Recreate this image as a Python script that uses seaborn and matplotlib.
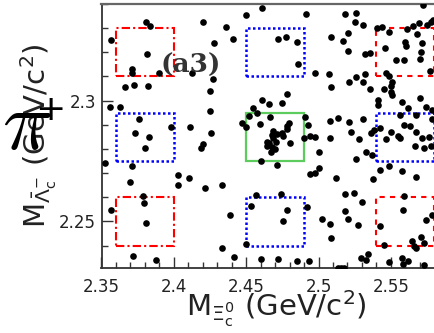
import matplotlib
matplotlib.use("Agg")
import matplotlib.pyplot as plt
import seaborn as sns
import pandas as pd
from matplotlib.patches import Rectangle
from matplotlib.ticker import MultipleLocator, FormatStrFormatter

# ---------------- data ----------------
m_xic0 = [
    2.3808, 2.3835, 2.3566, 2.3812, 2.3709, 2.3709, 2.3899, 2.3664, 2.3725, 2.3823,
    2.3559, 2.3628, 2.3759, 2.3732, 2.3980, 2.3828, 2.3801, 2.3522, 2.3709, 2.3697,
    2.4027, 2.4027, 2.3785, 2.3794, 2.3566, 2.3808, 2.3720, 2.3875,
    2.4201, 2.4357, 2.4497, 2.4606, 2.4412, 2.4278, 2.4128, 2.4271, 2.4252, 2.4252,
    2.4112, 2.4259, 2.4201, 2.4190, 2.4105, 2.4213, 2.4333, 2.4566, 2.4535, 2.4386,
    2.4497, 2.4331, 2.4416, 2.4604, 2.4611, 2.4547, 2.4468, 2.4497, 2.4577, 2.4522,
    2.4595, 2.4600,
    2.4658, 2.4745, 2.4664, 2.4794, 2.4784, 2.4780, 2.4687, 2.4715, 2.4745, 2.4756,
    2.4676, 2.4687, 2.4642, 2.4660, 2.4706, 2.4642, 2.4676, 2.4699, 2.4670, 2.4803,
    2.4711, 2.4741, 2.4918, 2.4782, 2.4752, 2.4718, 2.4849, 2.4936, 2.4913, 2.5185,
    2.4718, 2.4772, 2.4849, 2.5086, 2.5204, 2.5167, 2.5204, 2.4856, 2.4978, 2.5074,
    2.5088, 2.5210, 2.4782, 2.4906, 2.5079, 2.5137, 2.5210, 2.4929, 2.4899, 2.4941,
    2.4978, 2.5079, 2.5005, 2.5005, 2.4944, 2.4978, 2.5120, 2.5183, 2.5186, 2.5204,
    2.5024, 2.5076, 2.5083, 2.5132, 2.5155, 2.5178,
    2.5724, 2.5261, 2.5252, 2.5307, 2.5406, 2.5436, 2.5487, 2.5613, 2.5655, 2.5694,
    2.5747, 2.5775, 2.5791, 2.5682, 2.5597, 2.5602, 2.5713, 2.5459, 2.5321, 2.5356,
    2.5706, 2.5533, 2.5591, 2.5701, 2.5770, 2.5468, 2.5487, 2.5321, 2.5261, 2.5307,
    2.5506, 2.5503, 2.5353, 2.5452, 2.5499, 2.5510, 2.5701, 2.5413, 2.5413, 2.5579,
    2.5620, 2.5745, 2.5784, 2.5563, 2.5671, 2.5307, 2.5786, 2.5591, 2.5632,
    2.5225, 2.5281, 2.5362, 2.5383, 2.5425, 2.5466, 2.5500, 2.5546, 2.5563, 2.5673,
    2.5713, 2.5763, 2.5775, 2.5667, 2.5729,
    2.5331, 2.5367, 2.5261, 2.5423, 2.5487, 2.5575, 2.5376, 2.5671, 2.5243, 2.5302,
    2.5591, 2.5584, 2.5275, 2.5425, 2.5745, 2.5786, 2.5452, 2.5644, 2.5660, 2.5671,
    2.5706, 2.5729, 2.5295, 2.5331, 2.5344, 2.5487, 2.5579, 2.5584, 2.5620, 2.5729,
]
m_lambdac = [
    2.3325, 2.3308, 2.3250, 2.3195, 2.3130, 2.3115, 2.3113, 2.3055, 2.3064, 2.3060,
    2.2974, 2.2974, 2.2922, 2.2864, 2.2890, 2.2851, 2.2802, 2.2741, 2.2728, 2.2663,
    2.2693, 2.2649, 2.2606, 2.2576, 2.2546, 2.2493, 2.2358, 2.2341,
    2.3325, 2.3305, 2.3354, 2.3382, 2.3257, 2.3237, 2.3113, 2.3089, 2.3041, 2.2957,
    2.2892, 2.2867, 2.2822, 2.2805, 2.2679, 2.2638, 2.2649, 2.2608, 2.2565, 2.2526,
    2.2406, 2.2389, 2.2352, 2.2344, 2.3002, 2.2968, 2.2908, 2.2892, 2.2947, 2.2936,
    2.2903, 2.2748,
    2.2986, 2.2991, 2.2933, 2.2908, 2.2894, 2.2881, 2.2875, 2.2860, 2.2864, 2.2853,
    2.2857, 2.2844, 2.2829, 2.2823, 2.2829, 2.2812, 2.2809, 2.2798, 2.2788, 2.2823,
    2.2735, 2.2615, 2.2559, 2.2546, 2.2500, 2.2344, 2.2334, 2.2337, 2.3358, 2.3358,
    2.3257, 2.3264, 2.3243, 2.3264, 2.3281, 2.3248, 2.3205, 2.3151, 2.3113, 2.3110,
    2.3056, 2.3078, 2.3026, 2.2933, 2.2917, 2.2926, 2.2912, 2.2899, 2.2844, 2.2854,
    2.2849, 2.2845, 2.2786, 2.2721, 2.2698, 2.2700, 2.2680, 2.2613, 2.2541, 2.2511,
    2.2510, 2.2491, 2.2433, 2.2309, 2.2309, 2.2309,
    2.3395, 2.3363, 2.3326, 2.3311, 2.3299, 2.3303, 2.3285, 2.3295, 2.3308, 2.3322,
    2.3313, 2.3326, 2.3333, 2.3274, 2.3243, 2.3226, 2.3237, 2.3219, 2.3195, 2.3198,
    2.3202, 2.3168, 2.3168, 2.3171, 2.3122, 2.3115, 2.3101, 2.3110, 2.3096, 2.3078,
    2.3078, 2.3060, 2.3050, 2.3050, 2.3036, 2.3023, 2.3012, 2.3002, 2.2981, 2.2995,
    2.2968, 2.2972, 2.2961, 2.2940, 2.2940, 2.2922, 2.2922, 2.2899, 2.2896,
    2.2871, 2.2841, 2.2866, 2.2878, 2.2885, 2.2841, 2.2870, 2.2855, 2.2847, 2.2870,
    2.2845, 2.2849, 2.2813, 2.2813, 2.2803,
    2.2786, 2.2774, 2.2758, 2.2711, 2.2728, 2.2707, 2.2676, 2.2682, 2.2617, 2.2580,
    2.2606, 2.2546, 2.2483, 2.2479, 2.2504, 2.2527, 2.2403, 2.2417, 2.2397, 2.2389,
    2.2434, 2.2410, 2.2348, 2.2339, 2.2366, 2.2332, 2.2348, 2.2325, 2.2337, 2.2320,
]

# signal / sideband windows
x_bands = [(2.36, 2.40), (2.45, 2.49), (2.54, 2.58)]
y_bands = [(2.24, 2.26), (2.275, 2.295), (2.31, 2.33)]

x_ticks = [2.35, 2.40, 2.45, 2.50, 2.55]
y_ticks = [2.25, 2.30]

xlabel = r'M$_{\Xi_{\mathrm{c}}^{0}}$ (GeV/c$^{2}$)'
ylabel = r'M$_{\bar{\Lambda}_{\mathrm{c}}^{-}}$ (GeV/c$^{2}$)'
panel_label = '(a3)'

# ---------------- plot ----------------
sns.set_style('ticks')
plt.rcParams['font.family'] = ['DejaVu Sans']
plt.rcParams['mathtext.fontset'] = 'dejavusans'

W, H = 434, 333
fig = plt.figure(figsize=(W / 100, H / 100), dpi=100)
ax = fig.add_axes([101.5 / W, (H - 268) / H, (W - 101.5) / W, (268 - 4) / H])

df = pd.DataFrame({'x': m_xic0, 'y': m_lambdac})
sns.scatterplot(data=df, x='x', y='y', ax=ax, color='black', s=23,
                linewidth=0, legend=False, zorder=3)

ax.set_xlim(2.35, 2.5798)
ax.set_ylim(2.2307, 2.34)

# boxes
for i, (x0, x1) in enumerate(x_bands):
    for j, (y0, y1) in enumerate(y_bands):
        if i == 1 and j == 1:
            ec, ls, lw = '#5ccc5c', '-', 1.6
        elif i == 1 or j == 1:
            ec, ls, lw = '#0000ff', (0, (1, 1)), 1.8
        elif i == 0:
            ec, ls, lw = '#ff0000', (0, (4, 1.5, 1, 1.5)), 1.5
        else:
            ec, ls, lw = '#ff0000', (0, (2.5, 2.5)), 1.5
        ax.add_patch(Rectangle((x0, y0), x1 - x0, y1 - y0, fill=False,
                               edgecolor=ec, linestyle=ls, linewidth=lw, zorder=2))

ax.set_xticks(x_ticks)
ax.set_yticks(y_ticks)
ax.xaxis.set_minor_locator(MultipleLocator(0.01))
ax.yaxis.set_minor_locator(MultipleLocator(0.01))
ax.xaxis.set_major_formatter(FormatStrFormatter('%g'))
ax.yaxis.set_major_formatter(FormatStrFormatter('%g'))
ax.tick_params(which='both', direction='in', top=False, right=False,
               colors='#333333', labelcolor='#222222', width=1.0)
ax.tick_params(which='major', length=8, labelsize=12)
ax.tick_params(axis='x', which='major', pad=7)
ax.tick_params(axis='y', which='major', pad=4)
ax.tick_params(which='minor', length=4)
ax.set_xlabel('')
ax.set_ylabel('')

ax.spines['right'].set_visible(False)
ax.spines['top'].set_color('#666666')
ax.spines['top'].set_linewidth(1.6)
for s in ('left', 'bottom'):
    ax.spines[s].set_color('#333333')
    ax.spines[s].set_linewidth(1.3)

fig.text(276 / W, 1 - 317 / H, xlabel, ha='center', va='baseline',
         fontsize=21, color='#222222')
fig.text(47 / W, 1 - 136 / H, ylabel, rotation=90, rotation_mode='anchor',
         ha='center', va='baseline', fontsize=21, color='#222222')

fig.text(191 / W, 1 - 65 / H, panel_label, ha='center', va='center',
         family='DejaVu Serif', weight='bold', fontsize=19, color='#333333')

fig.text(27 / W, 1 - 125 / H, r'$\pi$', ha='center', va='center',
         fontsize=60, math_fontfamily='cm', color='black')
fig.text(50 / W, 1 - 110 / H, '+', ha='center', va='center',
         fontsize=26, color='black')

fig.savefig('out.png', dpi=100)
